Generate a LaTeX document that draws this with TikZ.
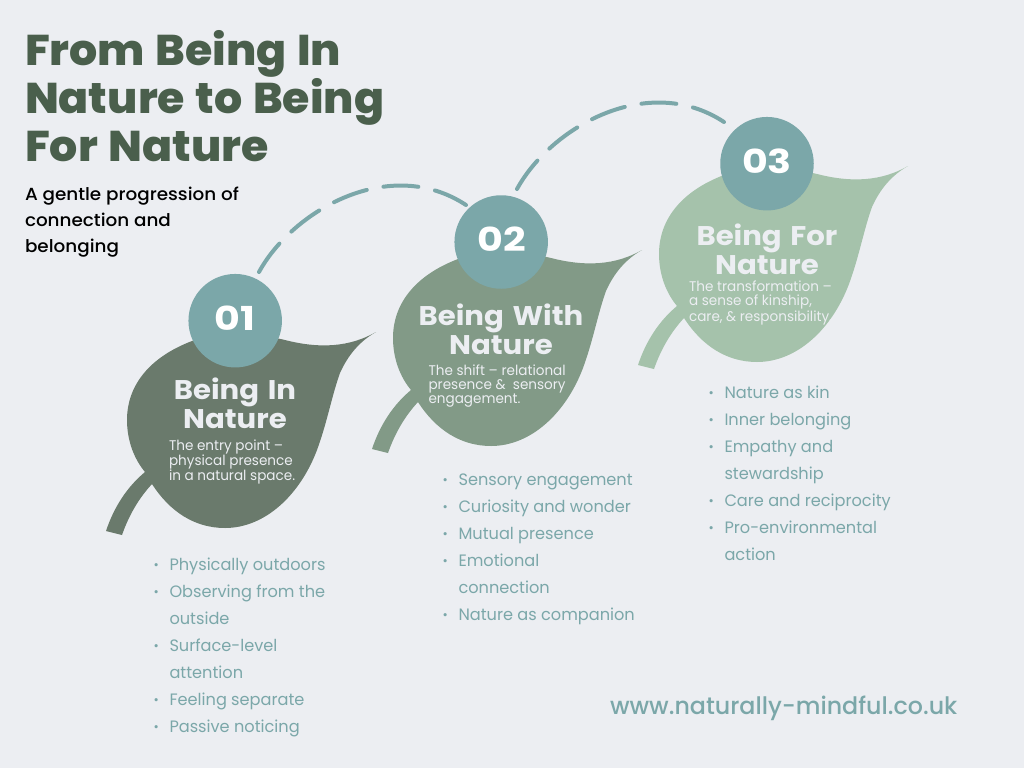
\documentclass[tikz,border=0pt]{standalone}
\usepackage{fontspec}
\setmainfont{Poppins}
\newfontfamily\poptitle{Poppins}[UprightFont=*-ExtraBold,FakeStretch=1.03,WordSpace=1.25]
\newfontfamily\pophead{Poppins}[UprightFont=*-Bold,FakeStretch=1.08,WordSpace=1.4]
\newfontfamily\popnum{Poppins}[UprightFont=*-Bold,FakeStretch=1.2]
\newfontfamily\popmed{Poppins}[UprightFont=*-Medium,FakeStretch=1.05]
\newfontfamily\popurl{Poppins}[UprightFont=*-Medium,FakeStretch=0.99]
\newfontfamily\poplist{Poppins}[FakeStretch=0.98]
\newfontfamily\popdesc{Poppins}[FakeStretch=0.97]
\definecolor{bgc}{HTML}{ECEEF2}
\definecolor{teal}{HTML}{7BA7A9}
\definecolor{titlec}{HTML}{4A5F4C}
\definecolor{leafa}{HTML}{6A7A6C}
\definecolor{leafb}{HTML}{829A87}
\definecolor{leafc}{HTML}{A5C2AB}
\newcommand{\lb}[1]{\makebox[16pt][l]{\raisebox{0.5pt}{\fontsize{13}{13}\selectfont •}}#1}
\newcommand{\lc}[1]{\hspace*{16pt}#1}
\tikzset{
  x=1pt,y=-1pt,
  txt/.style={inner sep=0pt,outer sep=0pt,anchor=base west,align=left},
  titlefont/.style={txt,text=titlec,font=\poptitle\fontsize{43}{48}\selectfont},
  subfont/.style={txt,text=black,font=\popmed\fontsize{17.5}{26}\selectfont},
  headfont/.style={inner sep=0pt,anchor=base,align=center,text=bgc,font=\pophead\fontsize{27}{29}\selectfont},
  descfont/.style={txt,text=bgc,font=\popdesc\fontsize{14}{14}\selectfont},
  listfont/.style={txt,text=teal,font=\poplist\fontsize{16.5}{27}\selectfont},
  urlfont/.style={txt,text=teal,font=\popurl\fontsize{24}{24}\selectfont},
  numcircle/.style={circle,fill=teal,minimum size=93.5pt,inner sep=0pt},
  numfont/.style={inner sep=0pt,anchor=base,text=white,font=\popnum\fontsize{33}{33}\selectfont},
  dashline/.style={draw=teal,line width=4pt,line cap=round,dash pattern=on 35pt off 17pt},
}
\newcommand{\leafshape}{%
  (376,332) .. controls (350,347) and (320,349) .. (285,340)
  .. controls (255,333) and (215,331) .. (192,341)
  .. controls (150,357) and (127,385) .. (127,420)
  .. controls (127,442) and (135,460) .. (145,472)
  .. controls (127,487) and (114,507) .. (106,531)
  -- (122,535)
  .. controls (129,515) and (139,498) .. (152,484)
  .. controls (170,512) and (195,528) .. (225,528)
  .. controls (265,528) and (300,495) .. (317,450)
  .. controls (327,423) and (332,395) .. (340,373)
  .. controls (348,355) and (360,341) .. (376,332) -- cycle}
\begin{document}
\begin{tikzpicture}
\useasboundingbox (0,0) rectangle (1024,768);
\fill[bgc] (0,0) rectangle (1024,768);
% leaves
\fill[leafa] \leafshape;
\begin{scope}[shift={(266,-82)}]\fill[leafb] \leafshape;\end{scope}
\begin{scope}[shift={(532,-166)}]\fill[leafc] \leafshape;\end{scope}
% dashed connectors
\coordinate (d1s) at (259,272);
\coordinate (d1e) at (466,205);
\coordinate (d2s) at (517,189);
\coordinate (d2e) at (724,122);
\draw[dashline] (d1s) .. controls (293,210) and (390,155) .. (d1e);
\draw[dashline] (d2s) .. controls (551,127) and (648,72) .. (d2e);
% circles
\node[numcircle] (c1) at (235.2,320.7) {};
\node[numcircle] (c2) at (501.2,242) {};
\node[numcircle] (c3) at (767,163.7) {};
\node[numfont] (n1) at (235,330) {01};
\node[numfont] (n2) at (501.5,251.5) {02};
\node[numfont] (n3) at (767,173) {03};
% title
\node[titlefont] (title) at (25,161) {From Being In\\Nature to Being\\For Nature};
\node[subfont] (sub) at (25,252) {A gentle progression of\\connection and\\belonging};
% headings
\node[headfont] (h1) at (235,428) {Being In\\Nature};
\node[headfont] (h2) at (501,354) {Being With\\Nature};
\node[headfont] (h3) at (767,274) {Being For\\Nature};
% descriptions
\node[descfont] (d1) at (169,480.7) {The entry point –\\physical presence\\in a natural space.};
\node[descfont] (d2) at (428.5,403) {The shift – relational\\presence \&\ \ sensory\\engagement.};
\node[descfont] (d3) at (689,321) {The transformation –\\a sense of kinship,\\care, \& responsibility.};
% lists
\node[listfont] (l1) at (153.5,732) {\lb{Physically outdoors}\\\lb{Observing from the}\\\lc{outside}\\\lb{Surface-level}\\\lc{attention}\\\lb{Feeling separate}\\\lb{Passive noticing}};
\node[listfont] (l2) at (442.5,620) {\lb{Sensory engagement}\\\lb{Curiosity and wonder}\\\lb{Mutual presence}\\\lb{Emotional}\\\lc{connection}\\\lb{Nature as companion}};
\node[listfont] (l3) at (708.5,560) {\lb{Nature as kin}\\\lb{Inner belonging}\\\lb{Empathy and}\\\lc{stewardship}\\\lb{Care and reciprocity}\\\lb{Pro-environmental}\\\lc{action}};
% url
\node[urlfont] (url) at (610,714.5) {www.naturally-mindful.co.uk};
\end{tikzpicture}
\end{document}
